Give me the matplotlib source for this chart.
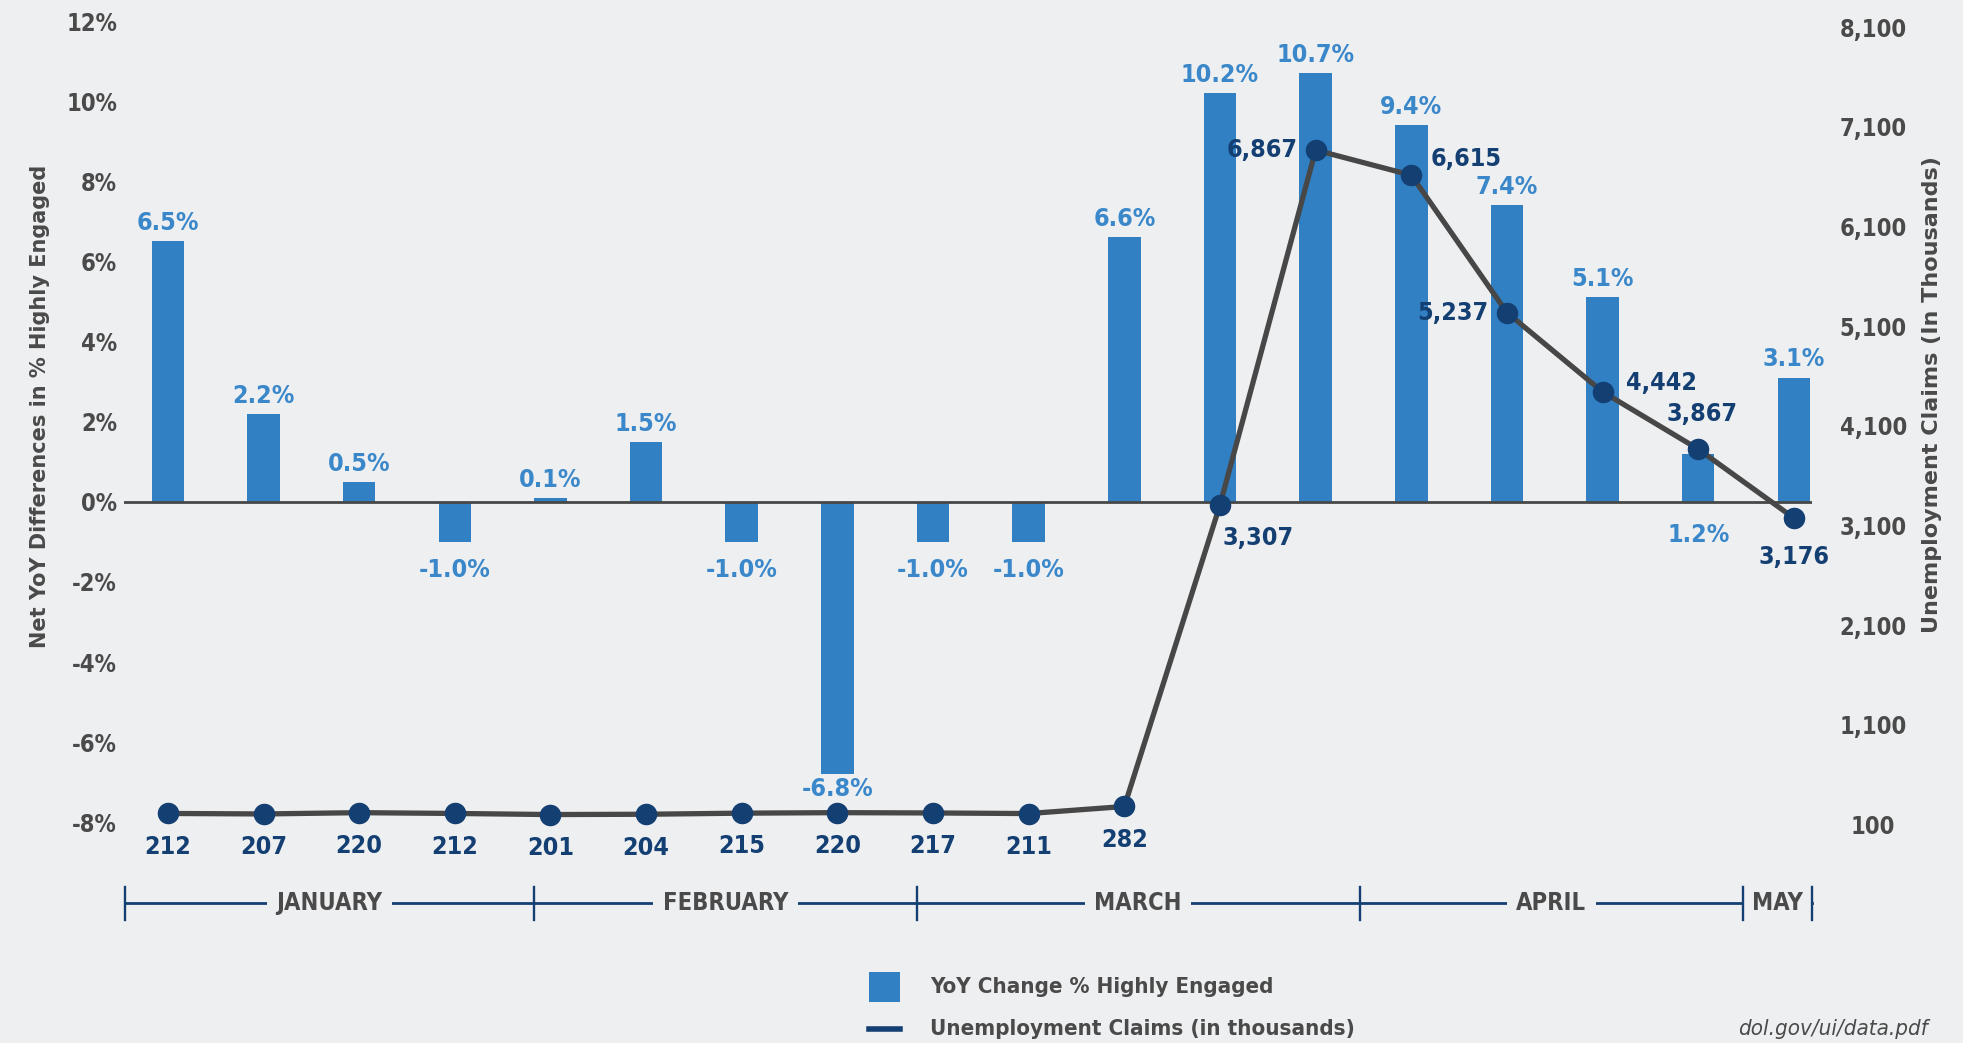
import matplotlib
matplotlib.use('Agg')
import matplotlib.pyplot as plt
from matplotlib import font_manager as fm
from matplotlib.lines import Line2D
from matplotlib.patches import Rectangle

# weekly data, Jan -> early May
yoy_change = [6.5, 2.2, 0.5, -1.0, 0.1, 1.5, -1.0, -6.8, -1.0, -1.0,
              6.6, 10.2, 10.7, 9.4, 7.4, 5.1, 1.2, 3.1]
claims = [212, 207, 220, 212, 201, 204, 215, 220, 217, 211,
          282, 3307, 6867, 6615, 5237, 4442, 3867, 3176]
months = ['JANUARY', 'FEBRUARY', 'MARCH', 'APRIL', 'MAY']
month_edges = [-0.45, 3.83, 7.83, 12.46, 16.465, 17.19]
left_ticks = [-8, -6, -4, -2, 0, 2, 4, 6, 8, 10, 12]
right_ticks = [100, 1100, 2100, 3100, 4100, 5100, 6100, 7100, 8100]

BG = '#eeeff1'
BAR = '#3180c4'
BAR_TXT = '#3a87ca'
NAVY = '#143f73'
LINE = '#474747'
GRAY = '#4a4a4a'


def find_narrow(style='normal', weight=700):
    # look for any condensed / narrow face that is installed
    best = None
    for f in fm.fontManager.ttflist:
        tag = (f.name + ' ' + str(f.stretch)).lower()
        if 'condensed' not in tag and 'narrow' not in tag:
            continue
        if f.style != style:
            continue
        w = f.weight if isinstance(f.weight, int) else fm.weight_dict.get(f.weight, 400)
        score = abs(w - weight)
        if 'extra' in tag or 'ultra' in tag:
            score += 150
        if best is None or score < best[0]:
            best = (score, f)
    return best[1] if best else None


narrow = find_narrow()
if narrow is not None:
    plt.rcParams['font.family'] = [narrow.name, 'DejaVu Sans']
    plt.rcParams['font.stretch'] = narrow.stretch
else:
    plt.rcParams['font.family'] = ['Roboto', 'DejaVu Sans']
plt.rcParams['font.weight'] = 'bold'

fig = plt.figure(figsize=(19.63, 10.43), dpi=100, facecolor=BG)
ax = fig.add_axes([0.0632, 0.1678, 0.8599, 0.827])
ax.set_facecolor(BG)
ax2 = ax.twinx()

x = list(range(len(yoy_change)))
ax.bar(x, yoy_change, width=0.34, color=BAR, zorder=2)
ax.axhline(0, color=LINE, lw=2, zorder=3)
ax.set_xlim(-0.458, 17.19)
ax.set_ylim(-9.14, 12.39)
ax.set_xticks([])
ax.set_yticks(left_ticks)
ax.set_yticklabels(['%d%%' % t for t in left_ticks])
ax.tick_params(axis='y', length=0, pad=5, labelsize=17, labelcolor=GRAY)

# bar value labels
for i, v in enumerate(yoy_change):
    txt = '%.1f%%' % v
    kw = dict(textcoords='offset points', ha='center', va='center',
              fontsize=18, color=BAR_TXT, zorder=6)
    if i == 16:
        # sits under the axis because the claims marker covers the bar top
        ax.annotate(txt, (i, 0), xytext=(0, -24), **kw)
    elif v < -5:
        kw['va'] = 'top'
        ax.annotate(txt, (i, v), xytext=(0, -2), **kw)
    elif v >= 0:
        kw['va'] = 'baseline'
        ax.annotate(txt, (i, v), xytext=(0, 8), **kw)
    else:
        ax.annotate(txt, (i, v), xytext=(0, -20), **kw)

# claims line on the right axis
ax2.plot(x, claims, color=LINE, lw=3.8, zorder=4)
ax2.plot(x, claims, 'o', color=NAVY, ms=14.5, zorder=5)
ax2.set_ylim(-335, 8318)
ax2.set_yticks(right_ticks)
ax2.set_yticklabels(['{:,}'.format(t) for t in right_ticks], ha='center')
ax2.tick_params(axis='y', length=0, pad=44, labelsize=17, labelcolor=GRAY)

# (dx, dy, ha) for the labels that do not sit under their point
label_offsets = {11: (2, -24, 'left'), 12: (-13, 0, 'right'), 13: (14, 12, 'left'),
                 14: (-13, 0, 'right'), 15: (17, 6, 'left'), 16: (3, 25, 'center'),
                 17: (0, -28, 'center')}
for i, c in enumerate(claims):
    dx, dy, ha = label_offsets.get(i, (0, -24, 'center'))
    ax2.annotate('{:,}'.format(c), (i, c), xytext=(dx, dy), textcoords='offset points',
                 ha=ha, va='center', fontsize=18, color=NAVY, zorder=6)

for a in (ax, ax2):
    for s in a.spines.values():
        s.set_visible(False)
ax.set_zorder(ax2.get_zorder() - 1)
ax2.patch.set_visible(False)

# month brackets under the chart
tr = ax.get_xaxis_transform()
ax.plot([month_edges[0], month_edges[-1]], [-0.041, -0.041], color=NAVY, lw=2.0,
        transform=tr, clip_on=False, zorder=2)
for e in month_edges:
    ax.plot([e, e], [-0.06, -0.022], color=NAVY, lw=1.7, transform=tr,
            clip_on=False, zorder=5)
for m, a, b in zip(months, month_edges[:-1], month_edges[1:]):
    ax.text((a + b) / 2, -0.041, m, transform=tr, ha='center', va='center',
            fontsize=17, color=GRAY, zorder=3,
            bbox=dict(boxstyle='square,pad=0.4', facecolor=BG, edgecolor='none'))

# axis titles
fig.text(0.0204, 0.61, 'Net YoY Differences in % Highly Engaged', rotation=90,
         ha='center', va='center', fontsize=15, color=GRAY,
         family='DejaVu Sans', stretch='normal')
fig.text(0.984, 0.622, 'Unemployment Claims (In Thousands)', rotation=90,
         ha='center', va='center', fontsize=16, color=GRAY,
         family='DejaVu Sans', stretch='normal')

# legend, drawn by hand
fig.add_artist(Rectangle((0.4427, 0.0393), 0.0158, 0.0288, transform=fig.transFigure,
                         facecolor=BAR, edgecolor='none'))
fig.add_artist(Line2D([0.4427, 0.4585], [0.0134, 0.0134], transform=fig.transFigure,
                      color=NAVY, lw=4))
fig.text(0.4738, 0.0537, 'YoY Change % Highly Engaged', ha='left', va='center',
         fontsize=16, color=GRAY)
fig.text(0.4738, 0.0134, 'Unemployment Claims (in thousands)', ha='left', va='center',
         fontsize=16, color=GRAY)
fig.text(0.982, 0.0134, 'dol.gov/ui/data.pdf', ha='right', va='center',
         fontsize=16, color=GRAY, style='italic', weight='normal')

fig.savefig('out.png', dpi=100, facecolor=BG)
